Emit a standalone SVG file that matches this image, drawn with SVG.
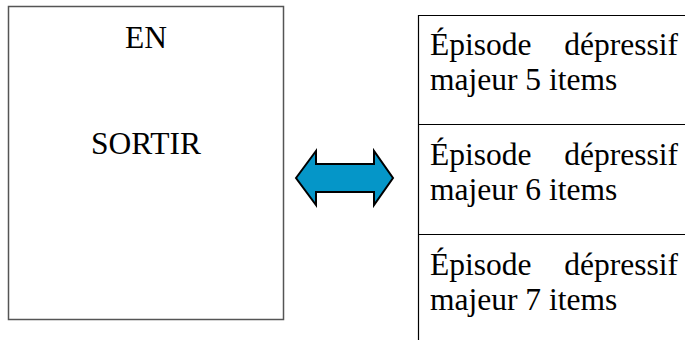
<svg xmlns="http://www.w3.org/2000/svg" width="685" height="340" viewBox="0 0 685 340">
<style>
text{font-family:'Liberation Serif','Times New Roman','DejaVu Serif',serif;font-size:31.5px;fill:#000}
.box{fill:#fff;stroke:#555;stroke-width:1.5}
.ln{stroke:#000;stroke-width:1.2;fill:none}
.arrow{fill:#0596c8;stroke:#000;stroke-width:2;stroke-linejoin:miter}
</style>
<rect width="685" height="340" fill="#fff"/>
<g id="en-sortir">
<rect class="box" x="8.5" y="6.5" width="275" height="313"/>
<text x="146" y="48" text-anchor="middle">EN</text>
<text x="146" y="154" text-anchor="middle">SORTIR</text>
</g>
<g id="table">
<path class="ln" d="M418.5 340 V15.5 H685" stroke="#555"/>
<path class="ln" d="M418 124.5 H685 M418 234.5 H685"/>
</g>
<g id="item5">
<text x="430" y="55">Épisode</text>
<text x="678" y="55" text-anchor="end">dépressif</text>
<text x="430" y="90">majeur 5 items</text>
</g>
<g id="item6">
<text x="430" y="165">Épisode</text>
<text x="678" y="165" text-anchor="end">dépressif</text>
<text x="430" y="200">majeur 6 items</text>
</g>
<g id="item7">
<text x="430" y="275">Épisode</text>
<text x="678" y="275" text-anchor="end">dépressif</text>
<text x="430" y="310">majeur 7 items</text>
</g>
<g id="connectors">
<polygon class="arrow" points="296,178 316,151 316,164 374,164 374,151 393,178 374,205 374,192 316,192 316,205"/>
</g>
</svg>
